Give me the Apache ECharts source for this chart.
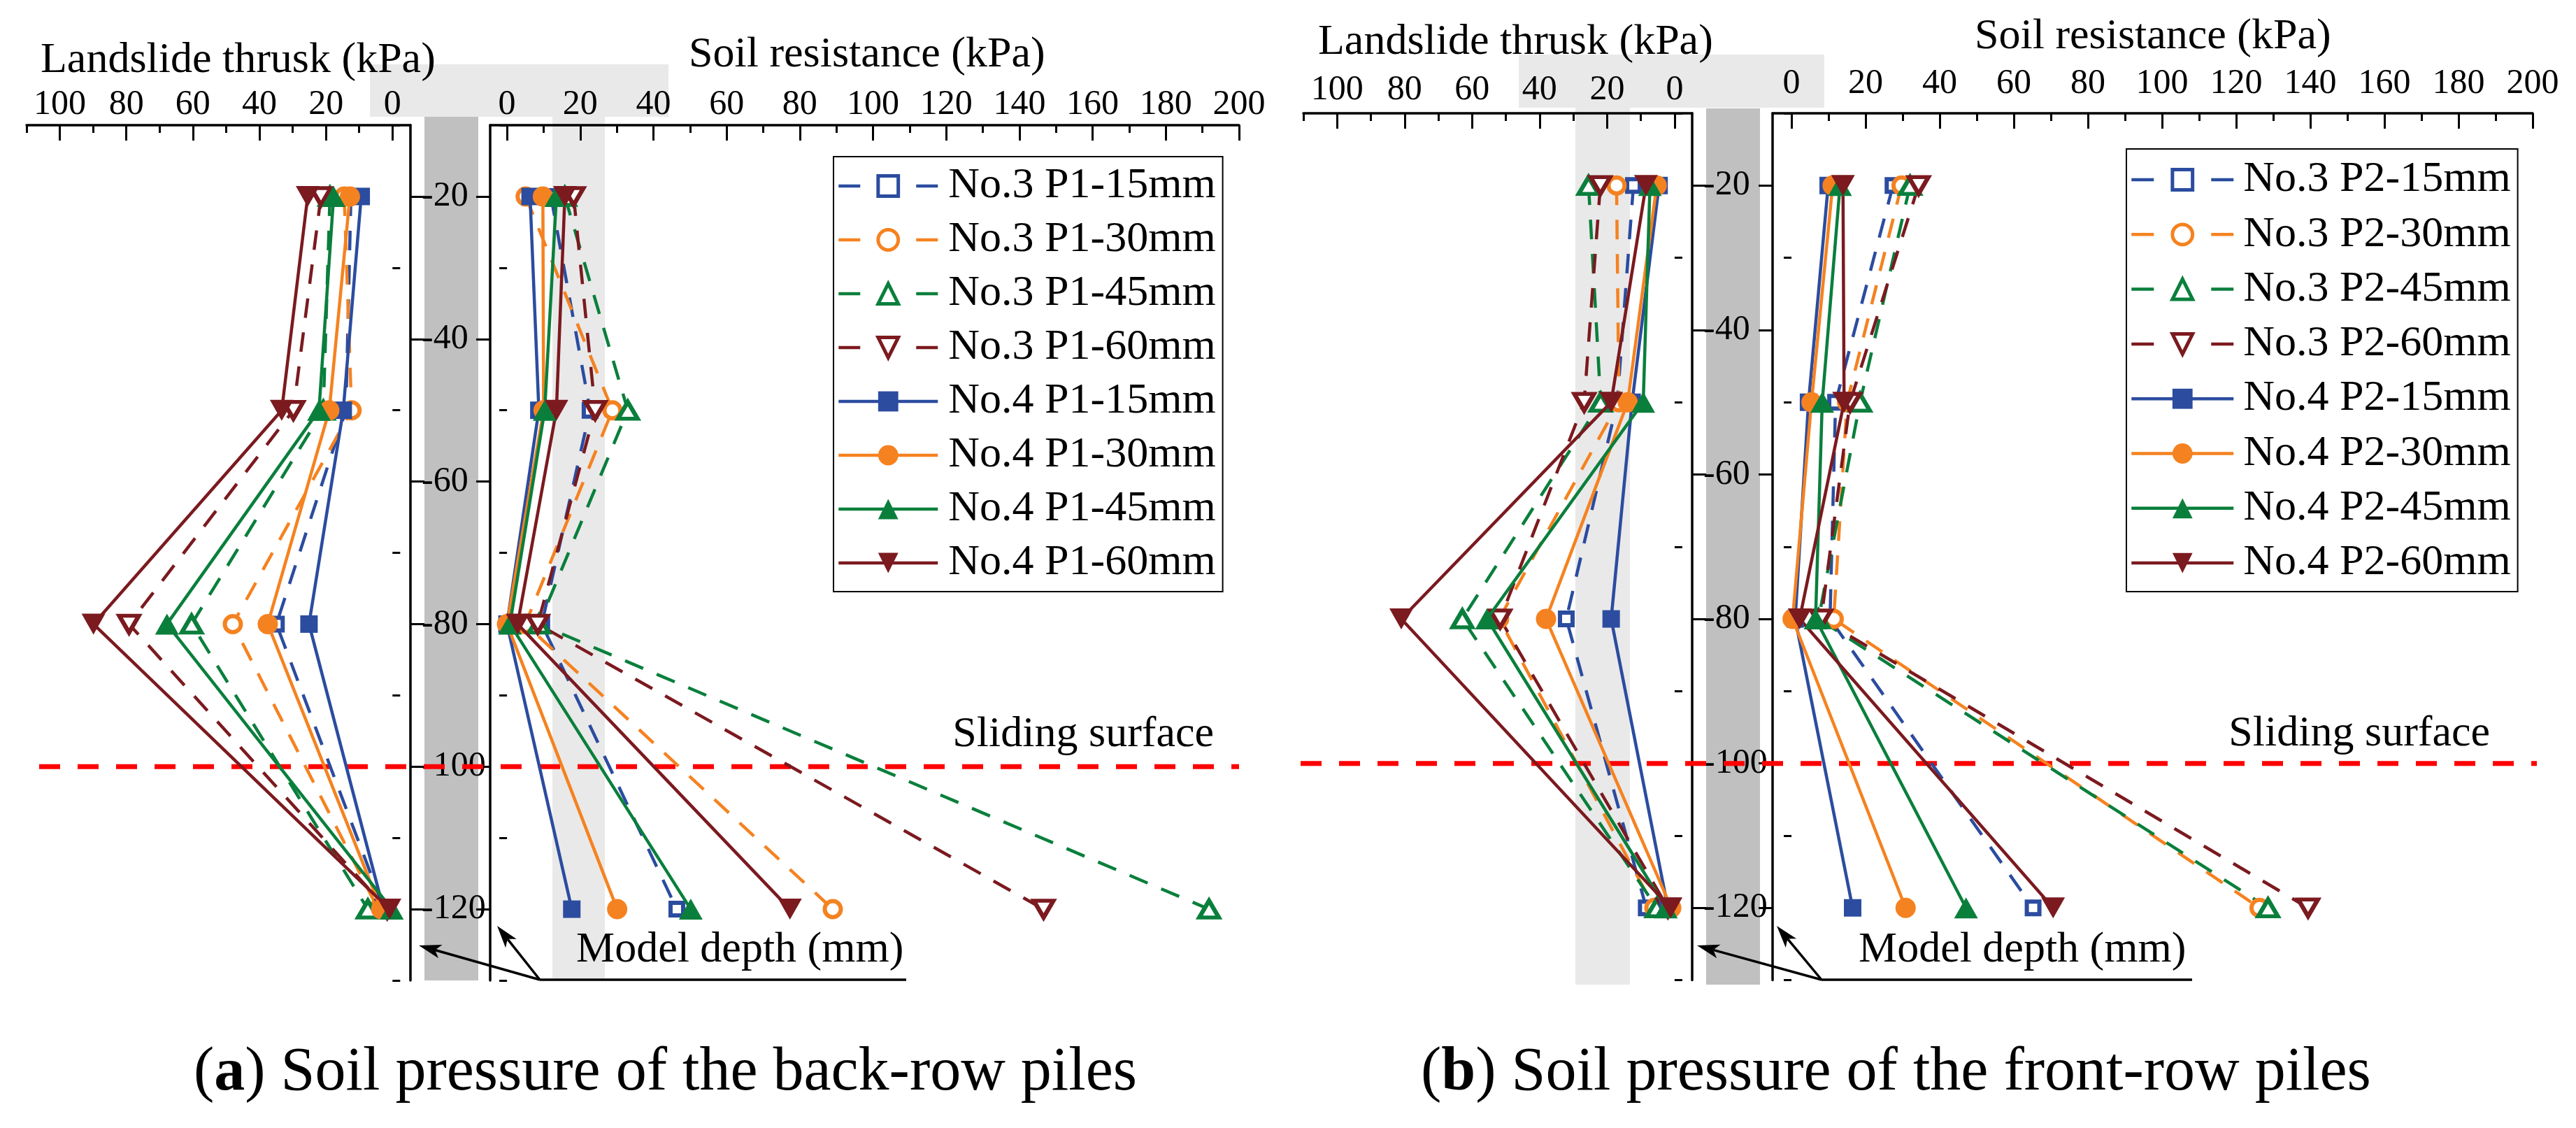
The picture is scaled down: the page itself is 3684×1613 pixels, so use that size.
<!DOCTYPE html>
<html>
<head>
<meta charset="utf-8">
<script src="https://cdn.jsdelivr.net/npm/echarts@6/dist/echarts.min.js"></script>
<style>
html,body{margin:0;padding:0;background:#fff;}
#c{width:3684px;height:1613px;}
</style>
</head>
<body>
<div id="c"></div>
<script>
// ---------------- DATA ----------------
const depths = [-20, -50, -80, -120];
const slidingDepth = -100;

const thrustTicks = [0, 20, 40, 60, 80, 100];
const thrustMinor = [10, 30, 50, 70, 90, 110];
const soilTicks = [0, 20, 40, 60, 80, 100, 120, 140, 160, 180, 200];
const soilMinor = [10, 30, 50, 70, 90, 110, 130, 150, 170, 190];
const depthTicks = [-120, -100, -80, -60, -40, -20];
const depthMinor = [-130, -110, -90, -70, -50, -30, -10];

const namesA = ['No.3 P1-15mm', 'No.3 P1-30mm', 'No.3 P1-45mm', 'No.3 P1-60mm',
                'No.4 P1-15mm', 'No.4 P1-30mm', 'No.4 P1-45mm', 'No.4 P1-60mm'];
const namesB = ['No.3 P2-15mm', 'No.3 P2-30mm', 'No.3 P2-45mm', 'No.3 P2-60mm',
                'No.4 P2-15mm', 'No.4 P2-30mm', 'No.4 P2-45mm', 'No.4 P2-60mm'];

// values at depths -20, -50, -80, -120 ; rows: 15mm, 30mm, 45mm, 60mm
const thrustA_No3 = [[12.5, 14, 34.9, 2.5], [14.5, 12.3, 48, 4.3], [18.8, 20.8, 60.4, 7.4], [21.5, 29.8, 79.2, 1.6]];
const thrustA_No4 = [[9.4, 14.8, 25.1, 2.7], [12.8, 19, 37.5, 3.4], [17.7, 22.1, 67.8, 0.2], [25.5, 33.3, 89.9, 0.9]];
const soilA_No3 = [[12, 22.7, 9.5, 46.4], [5.1, 28.8, 5, 89], [15.8, 33, 8.7, 191.8], [18.2, 24.1, 8.4, 146.6]];
const soilA_No4 = [[6.3, 8.7, 0, 17.7], [9.8, 10, 0, 30.1], [13.5, 10.3, 0.8, 50.2], [15.8, 13.5, 2.9, 77.3]];

const thrustB_No3 = [[12.2, 17, 32.1, 8.4], [17.2, 16.5, 52, 6], [25.5, 21.9, 62.9, 5.3], [22, 26.8, 51.7, 2]];
const thrustB_No4 = [[4.6, 12.6, 18.8, 2], [5.3, 13.9, 38.1, 1], [7.3, 9.3, 55.6, 2.6], [8.5, 18.8, 81, 1.2]];
const soilB_No3 = [[27.4, 11.9, 10.4, 65.2], [29.7, 15, 11.4, 126.3], [32, 18.5, 7.3, 128.6], [34.3, 15.8, 8, 139.4]];
const soilB_No4 = [[9.9, 4.6, 1, 16.5], [11.1, 5.4, 0.3, 30.8], [13.1, 8.3, 6.5, 47.1], [13.9, 14.2, 2.2, 70.6]];

// ---------------- STYLE ----------------
const FONT = "'Liberation Serif', 'Times New Roman', serif";
const colors = ['#2b4c9f', '#f58220', '#0a7f3c', '#7b1a1f'];
const openSym = [
  {symbol: 'rect', size: 18, rot: 0},
  {symbol: 'circle', size: 23, rot: 0},
  {symbol: 'triangle', size: [28, 24], rot: 0},
  {symbol: 'triangle', size: [28, 24], rot: 180}
];
const fullSym = [
  {symbol: 'rect', size: 25, rot: 0},
  {symbol: 'circle', size: 29, rot: 0},
  {symbol: 'triangle', size: [34, 30], rot: 0},
  {symbol: 'triangle', size: [34, 30], rot: 180}
];

function richTok(size) { return {t: {fontSize: size, fontFamily: FONT, color: '#000', lineHeight: size}}; }

const grids = [
  {left: 38, top: 179, width: 549, height: 1223},
  {left: 701, top: 179, width: 1071, height: 1223},
  {left: 1864, top: 162, width: 556, height: 1239.5},
  {left: 2535, top: 162, width: 1087, height: 1239.5}
];

function xAxesFor(g, min, max, inverse, majors, minors, margin) {
  return [
    {type: 'value', gridIndex: g, position: 'top', min: min, max: max, inverse: inverse,
     axisLine: {show: true, onZero: false, lineStyle: {color: '#000', width: 3.5}},
     axisTick: {show: true, inside: true, length: 22, customValues: majors, lineStyle: {color: '#000', width: 3}},
     axisLabel: {show: true, customValues: majors, margin: margin, fontSize: 50, fontFamily: FONT, color: '#000',
                 formatter: v => '{t|' + v + '}', rich: richTok(50)},
     splitLine: {show: false}},
    {type: 'value', gridIndex: g, position: 'top', min: min, max: max, inverse: inverse,
     axisLine: {show: false},
     axisTick: {show: true, inside: true, length: 11, customValues: minors, lineStyle: {color: '#000', width: 3}},
     axisLabel: {show: false},
     splitLine: {show: false}}
  ];
}
function yAxesFor(g, position, showLabels) {
  return [
    {type: 'value', gridIndex: g, position: position, min: -130, max: -10,
     axisLine: {show: true, onZero: false, lineStyle: {color: '#000', width: 3.5}},
     axisTick: {show: true, inside: false, length: 20, customValues: depthTicks, lineStyle: {color: '#000', width: 3}},
     axisLabel: {show: showLabels, customValues: depthTicks, margin: 16, fontSize: 50, fontFamily: FONT, color: '#000', align: 'left',
                 formatter: v => '{t|' + v + '}', rich: richTok(50)},
     splitLine: {show: false}},
    {type: 'value', gridIndex: g, position: position, min: -130, max: -10,
     axisLine: {show: false},
     axisTick: {show: true, inside: false, length: 11, customValues: depthMinor, lineStyle: {color: '#000', width: 3}},
     axisLabel: {show: false},
     splitLine: {show: false}}
  ];
}

const xAxis = [].concat(
  xAxesFor(0, -5.4, 110, true, thrustTicks, thrustMinor, 4),
  xAxesFor(1, -4.6, 200, false, soilTicks, soilMinor, 4),
  xAxesFor(2, -5.2, 110, true, thrustTicks, thrustMinor, 8),
  xAxesFor(3, -5.1, 200, false, soilTicks, soilMinor, 17)
);
const yAxis = [].concat(
  yAxesFor(0, 'right', true),
  yAxesFor(1, 'left', false),
  yAxesFor(2, 'right', true),
  yAxesFor(3, 'left', false)
);

function makeSeries(name, vals, g, isNo3, k) {
  const s = isNo3 ? openSym[k] : fullSym[k];
  const c = colors[k];
  return {
    name: name, type: 'line', xAxisIndex: 2 * g, yAxisIndex: 2 * g,
    data: depths.map((d, i) => [vals[i], d]),
    symbol: s.symbol, symbolSize: s.size, symbolRotate: s.rot,
    lineStyle: {color: c, width: 4.5, type: isNo3 ? [28, 21] : 'solid'},
    itemStyle: isNo3 ? {color: '#fff', borderColor: c, borderWidth: 6}
                     : {color: c, borderColor: c, borderWidth: 0},
    z: isNo3 ? 3 : 4,
    animation: false
  };
}

const series = [];
[0, 1, 2, 3].forEach(k => {
  series.push(makeSeries(namesA[k], thrustA_No3[k], 0, true, k));
  series.push(makeSeries(namesA[k], soilA_No3[k], 1, true, k));
  series.push(makeSeries(namesB[k], thrustB_No3[k], 2, true, k));
  series.push(makeSeries(namesB[k], soilB_No3[k], 3, true, k));
});
[0, 1, 2, 3].forEach(k => {
  series.push(makeSeries(namesA[4 + k], thrustA_No4[k], 0, false, k));
  series.push(makeSeries(namesA[4 + k], soilA_No4[k], 1, false, k));
  series.push(makeSeries(namesB[4 + k], thrustB_No4[k], 2, false, k));
  series.push(makeSeries(namesB[4 + k], soilB_No4[k], 3, false, k));
});

function legendFor(names, left, top, itemWidth, itemGap, padTop, textPad) {
  const d = Math.round(itemWidth * 0.22);
  const dash = [d, itemWidth - 2 * d];
  return {
    orient: 'vertical', left: left, top: top, selectedMode: false,
    itemWidth: itemWidth, itemHeight: 36, itemGap: itemGap,
    padding: [padTop, 10, 10, 5],
    borderColor: '#000', borderWidth: 2, backgroundColor: '#fff',
    formatter: '{t|{name}}',
    textStyle: {fontSize: 62, fontFamily: FONT, color: '#000', lineHeight: 62, padding: [0, 0, 0, textPad], rich: richTok(62)},
    data: names.map((n, i) => i < 4
      ? {name: n, lineStyle: {width: 4.5, type: dash}, itemStyle: {borderWidth: 5}}
      : {name: n, lineStyle: {width: 4.5, type: 'solid'}})
  };
}

const option = {
  animation: false,
  backgroundColor: '#fff',
  textStyle: {fontFamily: FONT},
  grid: grids,
  xAxis: xAxis,
  yAxis: yAxis,
  legend: [
    legendFor(namesA, 1192, 224, 142, 15, 11, 10),
    legendFor(namesB, 3041, 213, 146, 16.3, 13, 9)
  ],
  series: series
};

const chart = echarts.init(document.getElementById('c'));
chart.setOption(option);

// ---------------- DECORATIONS ----------------
const yA = chart.convertToPixel({yAxisIndex: 0}, slidingDepth);
const yB = chart.convertToPixel({yAxisIndex: 4}, slidingDepth);

function txt(text, x, y, size, align) {
  return {type: 'text', z: 10, silent: true, style: {
    text: '{t|' + text + '}', x: x, y: y, fill: '#000', fontSize: size, fontFamily: FONT,
    align: align || 'left', verticalAlign: 'middle', rich: richTok(size)}};
}
function rect(x, y, w, h, fill) {
  return {type: 'rect', z: -5, silent: true, shape: {x: x, y: y, width: w, height: h}, style: {fill: fill}};
}
function arrow(sx, sy, tx, ty) {
  const dx = tx - sx, dy = ty - sy, len = Math.hypot(dx, dy);
  const ux = dx / len, uy = dy / len, nx = -uy, ny = ux;
  const L = 32, W = 10;
  const bx = tx - ux * L, by = ty - uy * L;
  return [
    {type: 'line', z: 10, silent: true, shape: {x1: sx, y1: sy, x2: bx + ux * 8, y2: by + uy * 8}, style: {stroke: '#000', lineWidth: 3.5}},
    {type: 'polygon', z: 10, silent: true, shape: {points: [[tx, ty], [bx + nx * W, by + ny * W], [bx + ux * 8, by + uy * 8], [bx - nx * W, by - ny * W]]}, style: {fill: '#000'}}
  ];
}
const BAND = '#e9e9e9', PILE = '#c0c0c0';
const richCap = {
  t: {fontSize: 88, fontFamily: FONT, color: '#000'},
  b: {fontWeight: 'bold', fontSize: 88, fontFamily: FONT, color: '#000'}
};
const elements = [
  // panel a bands
  rect(529, 92, 427, 75, BAND),
  rect(790, 167, 75, 1235, BAND),
  rect(607, 167, 77, 1235, PILE),
  // panel b bands
  rect(2172, 78, 437, 76, BAND),
  rect(2253, 154, 78, 1254, BAND),
  rect(2440, 155, 77, 1253, PILE),
  // sliding surface lines
  {type: 'line', z: 1, silent: true, shape: {x1: 56, y1: yA, x2: 1772, y2: yA}, style: {stroke: '#ff0000', lineWidth: 7, lineDash: [30, 25]}},
  {type: 'line', z: 1, silent: true, shape: {x1: 1860, y1: yB, x2: 3628, y2: yB}, style: {stroke: '#ff0000', lineWidth: 7, lineDash: [30, 25]}},
  // titles
  txt('Landslide thrusk (kPa)', 58, 87, 62),
  txt('Soil resistance (kPa)', 985, 79, 62),
  txt('Landslide thrusk (kPa)', 1885, 61, 62),
  txt('Soil resistance (kPa)', 2824, 53, 62),
  txt('Sliding surface', 1736, yA - 46, 62, 'right'),
  txt('Sliding surface', 3561, yB - 42, 62, 'right'),
  txt('Model depth (mm)', 824, 1359, 62),
  txt('Model depth (mm)', 2658, 1359, 62),
  // underlines of "Model depth"
  {type: 'line', z: 10, silent: true, shape: {x1: 772, y1: 1401, x2: 1296, y2: 1401}, style: {stroke: '#000', lineWidth: 3.5}},
  {type: 'line', z: 10, silent: true, shape: {x1: 2605, y1: 1401, x2: 3135, y2: 1401}, style: {stroke: '#000', lineWidth: 3.5}},
  // captions
  {type: 'text', z: 10, silent: true, style: {text: '{t|(}{b|a}{t|) Soil pressure of the back-row piles}', x: 277, y: 1535,
    fill: '#000', fontSize: 88, fontFamily: FONT, align: 'left', verticalAlign: 'middle', rich: richCap}},
  {type: 'text', z: 10, silent: true, style: {text: '{t|(}{b|b}{t|) Soil pressure of the front-row piles}', x: 2032, y: 1535,
    fill: '#000', fontSize: 88, fontFamily: FONT, align: 'left', verticalAlign: 'middle', rich: richCap}}
].concat(
  arrow(772, 1401, 599, 1352),
  arrow(772, 1401, 711, 1324),
  arrow(2605, 1401, 2427, 1352),
  arrow(2605, 1401, 2541, 1324)
);
chart.setOption({graphic: {elements: elements}});
</script>
</body>
</html>
